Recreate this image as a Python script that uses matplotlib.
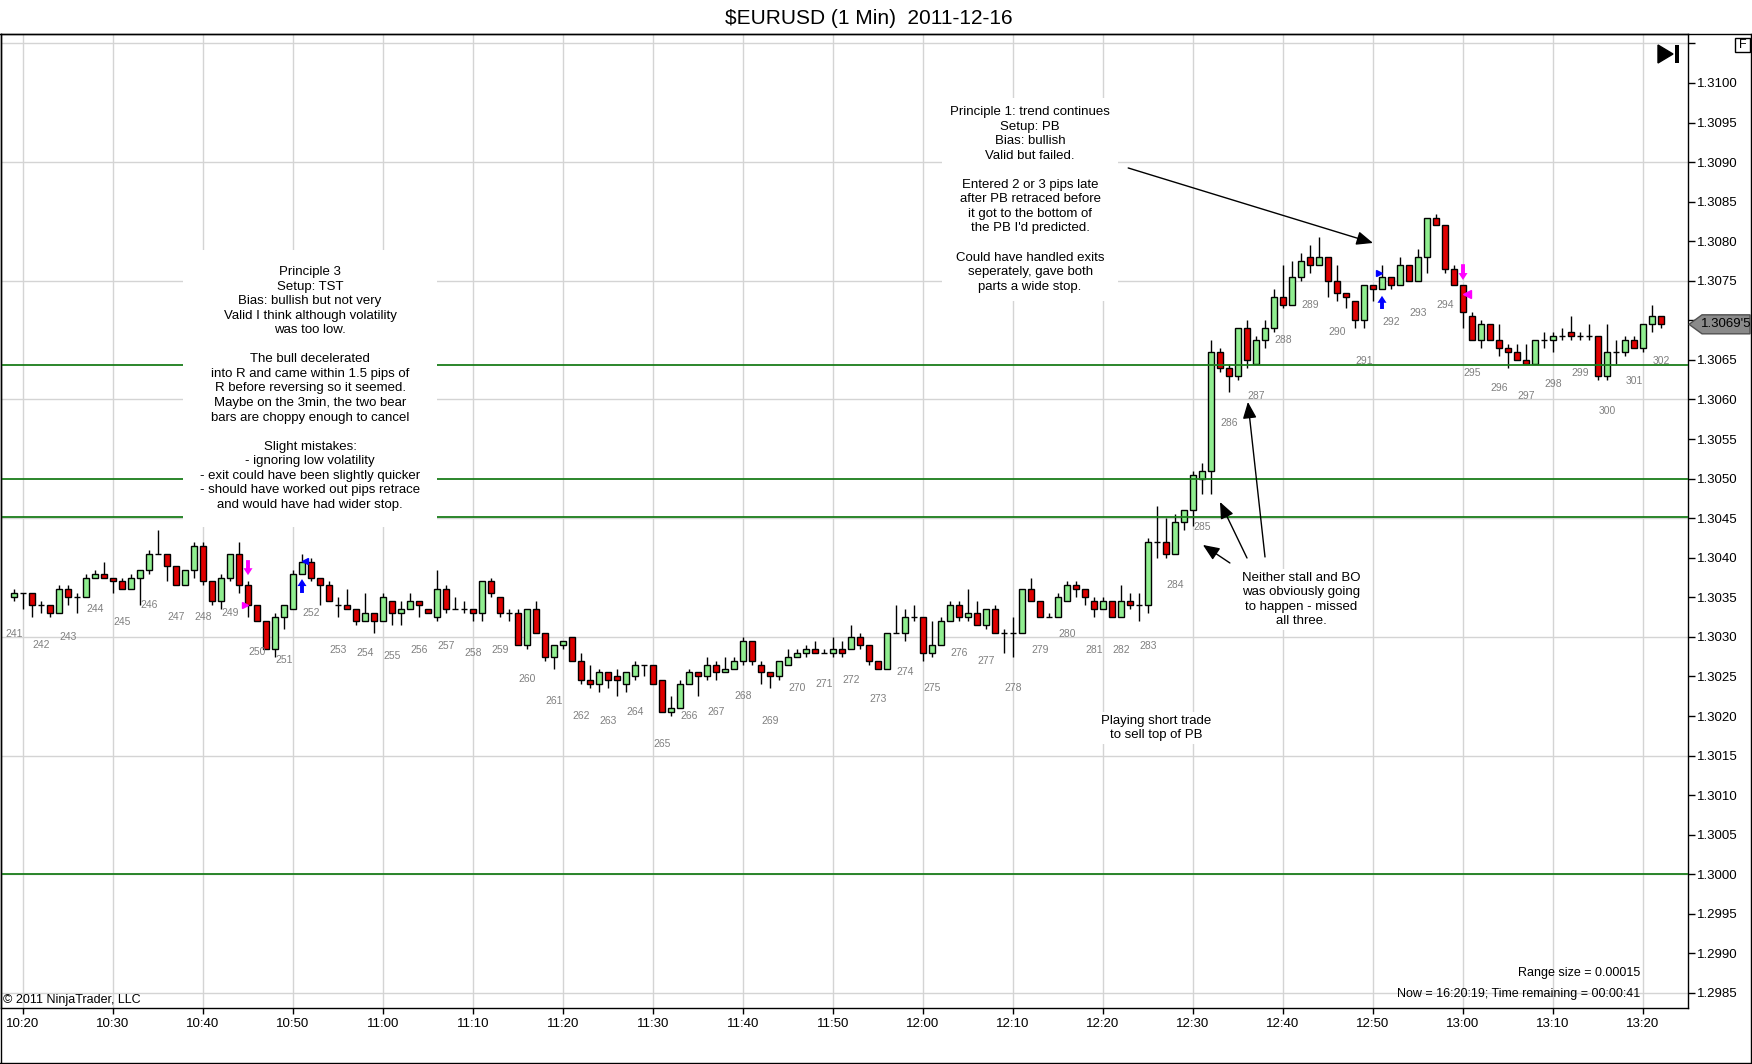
import numpy as np
import pandas as pd
import matplotlib
matplotlib.use("Agg")
import matplotlib.pyplot as plt
from matplotlib.patches import Polygon, Rectangle
from matplotlib.lines import Line2D
from matplotlib.transforms import IdentityTransform

# EURUSD 1 minute bars, 10:19 .. 13:22
opens = [
    1.30350, 1.30355, 1.30355, 1.30340, 1.30340, 1.30330, 1.30360, 1.30350, 1.30350, 1.30375,
    1.30380, 1.30375, 1.30370, 1.30360, 1.30375, 1.30385, 1.30405, 1.30405, 1.30390, 1.30365,
    1.30385, 1.30415, 1.30370, 1.30345, 1.30375, 1.30405, 1.30365, 1.30340, 1.30320, 1.30285,
    1.30325, 1.30335, 1.30380, 1.30395, 1.30375, 1.30365, 1.30340, 1.30340, 1.30335, 1.30320,
    1.30330, 1.30320, 1.30345, 1.30330, 1.30335, 1.30345, 1.30335, 1.30325, 1.30360, 1.30335,
    1.30335, 1.30335, 1.30330, 1.30370, 1.30350, 1.30330, 1.30330, 1.30290, 1.30335, 1.30305,
    1.30275, 1.30290, 1.30300, 1.30270, 1.30245, 1.30240, 1.30255, 1.30250, 1.30240, 1.30250,
    1.30265, 1.30265, 1.30245, 1.30205, 1.30210, 1.30240, 1.30255, 1.30250, 1.30265, 1.30255,
    1.30260, 1.30270, 1.30295, 1.30265, 1.30255, 1.30250, 1.30265, 1.30275, 1.30280, 1.30285,
    1.30280, 1.30280, 1.30285, 1.30285, 1.30300, 1.30290, 1.30270, 1.30260, 1.30305, 1.30305,
    1.30325, 1.30325, 1.30280, 1.30290, 1.30320, 1.30340, 1.30325, 1.30330, 1.30315, 1.30335,
    1.30305, 1.30305, 1.30305, 1.30360, 1.30345, 1.30325, 1.30325, 1.30345, 1.30365, 1.30360,
    1.30345, 1.30335, 1.30345, 1.30325, 1.30345, 1.30340, 1.30340, 1.30420, 1.30420, 1.30405,
    1.30445, 1.30460, 1.30500, 1.30510, 1.30660, 1.30640, 1.30630, 1.30690, 1.30645, 1.30675,
    1.30690, 1.30730, 1.30720, 1.30755, 1.30780, 1.30770, 1.30780, 1.30750, 1.30735, 1.30725,
    1.30700, 1.30745, 1.30740, 1.30755, 1.30745, 1.30770, 1.30750, 1.30780, 1.30830, 1.30820,
    1.30765, 1.30745, 1.30705, 1.30675, 1.30695, 1.30675, 1.30665, 1.30660, 1.30650, 1.30645,
    1.30675, 1.30675, 1.30680, 1.30685, 1.30680, 1.30680, 1.30680, 1.30630, 1.30660, 1.30660,
    1.30675, 1.30665, 1.30695, 1.30705,
]
highs = [
    1.30360, 1.30355, 1.30355, 1.30345, 1.30340, 1.30365, 1.30365, 1.30355, 1.30380, 1.30385,
    1.30395, 1.30375, 1.30375, 1.30380, 1.30385, 1.30410, 1.30435, 1.30405, 1.30390, 1.30385,
    1.30420, 1.30420, 1.30370, 1.30380, 1.30405, 1.30420, 1.30370, 1.30340, 1.30320, 1.30330,
    1.30340, 1.30385, 1.30405, 1.30400, 1.30375, 1.30370, 1.30350, 1.30360, 1.30335, 1.30355,
    1.30330, 1.30355, 1.30345, 1.30345, 1.30355, 1.30345, 1.30335, 1.30385, 1.30365, 1.30350,
    1.30345, 1.30335, 1.30370, 1.30375, 1.30350, 1.30335, 1.30335, 1.30335, 1.30345, 1.30305,
    1.30290, 1.30295, 1.30300, 1.30280, 1.30265, 1.30260, 1.30255, 1.30260, 1.30255, 1.30270,
    1.30265, 1.30265, 1.30245, 1.30225, 1.30245, 1.30260, 1.30255, 1.30275, 1.30270, 1.30275,
    1.30275, 1.30300, 1.30295, 1.30270, 1.30255, 1.30270, 1.30285, 1.30285, 1.30290, 1.30295,
    1.30285, 1.30300, 1.30295, 1.30315, 1.30305, 1.30290, 1.30270, 1.30305, 1.30340, 1.30335,
    1.30340, 1.30325, 1.30320, 1.30325, 1.30345, 1.30345, 1.30360, 1.30345, 1.30335, 1.30340,
    1.30310, 1.30325, 1.30360, 1.30375, 1.30345, 1.30330, 1.30355, 1.30370, 1.30370, 1.30360,
    1.30350, 1.30350, 1.30345, 1.30365, 1.30355, 1.30355, 1.30425, 1.30465, 1.30450, 1.30455,
    1.30460, 1.30510, 1.30520, 1.30675, 1.30665, 1.30645, 1.30690, 1.30700, 1.30680, 1.30700,
    1.30740, 1.30770, 1.30775, 1.30785, 1.30795, 1.30805, 1.30780, 1.30770, 1.30735, 1.30725,
    1.30745, 1.30745, 1.30770, 1.30755, 1.30780, 1.30770, 1.30790, 1.30830, 1.30835, 1.30820,
    1.30770, 1.30745, 1.30710, 1.30700, 1.30695, 1.30695, 1.30670, 1.30670, 1.30670, 1.30675,
    1.30685, 1.30685, 1.30690, 1.30705, 1.30685, 1.30695, 1.30680, 1.30695, 1.30675, 1.30680,
    1.30680, 1.30695, 1.30720, 1.30705,
]
lows = [
    1.30345, 1.30335, 1.30325, 1.30330, 1.30325, 1.30330, 1.30340, 1.30330, 1.30350, 1.30375,
    1.30375, 1.30355, 1.30360, 1.30360, 1.30340, 1.30380, 1.30405, 1.30370, 1.30365, 1.30365,
    1.30375, 1.30365, 1.30340, 1.30335, 1.30370, 1.30355, 1.30325, 1.30320, 1.30285, 1.30275,
    1.30310, 1.30335, 1.30380, 1.30370, 1.30340, 1.30345, 1.30325, 1.30335, 1.30315, 1.30320,
    1.30305, 1.30320, 1.30315, 1.30315, 1.30335, 1.30325, 1.30330, 1.30320, 1.30330, 1.30335,
    1.30330, 1.30320, 1.30320, 1.30350, 1.30325, 1.30320, 1.30290, 1.30285, 1.30305, 1.30270,
    1.30260, 1.30285, 1.30270, 1.30240, 1.30235, 1.30230, 1.30235, 1.30225, 1.30230, 1.30245,
    1.30250, 1.30240, 1.30205, 1.30200, 1.30210, 1.30240, 1.30225, 1.30245, 1.30245, 1.30255,
    1.30260, 1.30265, 1.30265, 1.30240, 1.30235, 1.30245, 1.30265, 1.30275, 1.30275, 1.30280,
    1.30280, 1.30275, 1.30275, 1.30285, 1.30285, 1.30265, 1.30260, 1.30260, 1.30305, 1.30295,
    1.30320, 1.30270, 1.30275, 1.30290, 1.30320, 1.30320, 1.30320, 1.30315, 1.30310, 1.30305,
    1.30280, 1.30275, 1.30305, 1.30345, 1.30325, 1.30325, 1.30325, 1.30345, 1.30350, 1.30340,
    1.30325, 1.30335, 1.30325, 1.30325, 1.30335, 1.30320, 1.30330, 1.30400, 1.30400, 1.30405,
    1.30435, 1.30440, 1.30480, 1.30480, 1.30635, 1.30610, 1.30625, 1.30640, 1.30645, 1.30665,
    1.30685, 1.30715, 1.30720, 1.30750, 1.30760, 1.30770, 1.30730, 1.30725, 1.30715, 1.30690,
    1.30690, 1.30725, 1.30740, 1.30740, 1.30745, 1.30750, 1.30750, 1.30760, 1.30820, 1.30760,
    1.30745, 1.30690, 1.30675, 1.30665, 1.30675, 1.30655, 1.30640, 1.30650, 1.30645, 1.30645,
    1.30665, 1.30660, 1.30675, 1.30675, 1.30675, 1.30675, 1.30625, 1.30625, 1.30645, 1.30655,
    1.30665, 1.30660, 1.30685, 1.30690,
]
closes = [
    1.30355, 1.30355, 1.30340, 1.30340, 1.30330, 1.30360, 1.30350, 1.30350, 1.30375, 1.30380,
    1.30375, 1.30370, 1.30360, 1.30375, 1.30385, 1.30405, 1.30405, 1.30390, 1.30365, 1.30385,
    1.30415, 1.30370, 1.30345, 1.30375, 1.30405, 1.30365, 1.30340, 1.30320, 1.30285, 1.30325,
    1.30340, 1.30380, 1.30395, 1.30375, 1.30365, 1.30345, 1.30340, 1.30335, 1.30320, 1.30330,
    1.30320, 1.30350, 1.30330, 1.30335, 1.30345, 1.30340, 1.30330, 1.30360, 1.30335, 1.30335,
    1.30335, 1.30330, 1.30370, 1.30355, 1.30330, 1.30330, 1.30290, 1.30335, 1.30305, 1.30275,
    1.30290, 1.30295, 1.30270, 1.30245, 1.30240, 1.30255, 1.30245, 1.30245, 1.30255, 1.30265,
    1.30265, 1.30240, 1.30205, 1.30210, 1.30240, 1.30255, 1.30250, 1.30265, 1.30255, 1.30260,
    1.30270, 1.30295, 1.30270, 1.30255, 1.30250, 1.30270, 1.30275, 1.30280, 1.30285, 1.30280,
    1.30280, 1.30285, 1.30280, 1.30300, 1.30290, 1.30270, 1.30260, 1.30305, 1.30305, 1.30325,
    1.30325, 1.30280, 1.30290, 1.30320, 1.30340, 1.30325, 1.30330, 1.30315, 1.30335, 1.30305,
    1.30305, 1.30305, 1.30360, 1.30345, 1.30325, 1.30325, 1.30350, 1.30365, 1.30360, 1.30350,
    1.30335, 1.30345, 1.30325, 1.30345, 1.30340, 1.30340, 1.30420, 1.30420, 1.30405, 1.30445,
    1.30460, 1.30505, 1.30510, 1.30660, 1.30640, 1.30630, 1.30690, 1.30650, 1.30675, 1.30690,
    1.30730, 1.30720, 1.30755, 1.30775, 1.30770, 1.30780, 1.30750, 1.30735, 1.30730, 1.30700,
    1.30745, 1.30740, 1.30755, 1.30745, 1.30770, 1.30750, 1.30780, 1.30830, 1.30820, 1.30765,
    1.30745, 1.30710, 1.30675, 1.30695, 1.30675, 1.30665, 1.30660, 1.30650, 1.30645, 1.30675,
    1.30675, 1.30680, 1.30680, 1.30680, 1.30680, 1.30680, 1.30630, 1.30660, 1.30660, 1.30675,
    1.30665, 1.30695, 1.30705, 1.30695,
]

# horizontal S/R lines drawn on the chart
levels = [1.30643, 1.30500, 1.30451, 1.30000]

# bar count labels, one every third bar
count_labels = list(range(241, 303))
count_label_prices = [
    1.30304, 1.30290, 1.30300, 1.30335, 1.30319, 1.30340, 1.30325, 1.30325, 1.30330, 1.30281,
    1.30271, 1.30330, 1.30284, 1.30280, 1.30276, 1.30284, 1.30289, 1.30280, 1.30284, 1.30247,
    1.30219, 1.30200, 1.30194, 1.30205, 1.30165, 1.30200, 1.30205, 1.30225, 1.30194, 1.30235,
    1.30240, 1.30245, 1.30222, 1.30255, 1.30235, 1.30280, 1.30270, 1.30235, 1.30284, 1.30304,
    1.30284, 1.30284, 1.30289, 1.30365, 1.30439, 1.30570, 1.30604, 1.30675, 1.30719, 1.30685,
    1.30649, 1.30698, 1.30709, 1.30719, 1.30634, 1.30614, 1.30604, 1.30619, 1.30634, 1.30585,
    1.30624, 1.30649,
]

note_p3 = ("Principle 3\nSetup: TST\nBias: bullish but not very\n"
           "Valid I think although volatility\nwas too low.\n\n"
           "The bull decelerated\ninto R and came within 1.5 pips of\n"
           "R before reversing so it seemed.\nMaybe on the 3min, the two bear\n"
           "bars are choppy enough to cancel\n\n"
           "Slight mistakes:\n- ignoring low volatility\n"
           "- exit could have been slightly quicker\n"
           "- should have worked out pips retrace\nand would have had wider stop.")
note_p1 = ("Principle 1: trend continues\nSetup: PB\nBias: bullish\nValid but failed.\n\n"
           "Entered 2 or 3 pips late\nafter PB retraced before\nit got to the bottom of\n"
           "the PB I'd predicted.\n\nCould have handled exits\nseperately, gave both\n"
           "parts a wide stop.")
note_bo = "Neither stall and BO\nwas obviously going\nto happen - missed\nall three."
note_short = "Playing short trade\nto sell top of PB"

W, H = 1752, 1064
plt.rcParams['font.family'] = ['Liberation Sans', 'DejaVu Sans']


def fx(px):
    return px / W


def fy(py):
    return 1 - py / H


fig = plt.figure(figsize=(W / 100, H / 100), dpi=100)
ax = fig.add_axes([fx(1), fy(1008), fx(1688) - fx(1), fy(34) - fy(1008)])

t0 = pd.Timestamp("2011-12-16 10:20")
times = pd.date_range("2011-12-16 10:19", periods=len(opens), freq="min")
x = ((times - t0) / pd.Timedelta(minutes=1)).to_numpy()
o = np.array(opens)
hi = np.array(highs)
lo = np.array(lows)
c = np.array(closes)

green = '#90ee90'
red = '#e00000'
bw = 0.67

# grid
tick_times = pd.date_range("2011-12-16 10:20", "2011-12-16 13:20", freq="10min")
tick_x = ((tick_times - t0) / pd.Timedelta(minutes=1)).to_numpy()
grid_levels = [1.2985, 1.3000, 1.3015, 1.3030, 1.3045, 1.3060, 1.3075, 1.3090, 1.3105]
for gx in tick_x:
    ax.axvline(gx, color='#d4d4d4', lw=1, zorder=0)
for gy in grid_levels:
    ax.axhline(gy, color='#d4d4d4', lw=1, zorder=0)

# candles
doji = np.isclose(o, c)
body = ~doji
ax.vlines(x, lo, hi, color='black', lw=1, zorder=2)
ax.bar(x[body], np.abs(c - o)[body], bottom=np.minimum(o, c)[body], width=bw,
       color=np.where(c >= o, green, red)[body], edgecolor='black', linewidth=1, zorder=3)
ax.hlines(c[doji], x[doji] - bw / 2, x[doji] + bw / 2, color='black', lw=1, zorder=3)

for lv in levels:
    ax.axhline(lv, color='#1a7d1a', lw=1.3, zorder=4)

for k, n in enumerate(count_labels):
    ax.text(x[3 * k], count_label_prices[k], str(n), ha='center', va='center',
            fontsize=7.5, color='#808080', zorder=3)

# notes
note_kw = dict(ha='center', va='center', multialignment='center',
               fontsize=9.5, linespacing=1.28, zorder=6)
ax.text(31.9, 1.306139, note_p3, bbox=dict(fc='white', ec='none', pad=12), **note_kw)
ax.text(111.9, 1.308528, note_p1, bbox=dict(fc='white', ec='none', pad=6), **note_kw)
ax.text(142.0, 1.303473, note_bo, bbox=dict(fc='white', ec='none', pad=2), **note_kw)
ax.text(125.9, 1.301849, note_short, bbox=dict(fc='white', ec='none', pad=2), **note_kw)

arrows = [((122.8, 1.308926), (150.0, 1.307978)),
          ((134.1, 1.303934), (131.1, 1.304162)),
          ((136.0, 1.303997), (133.0, 1.304705)),
          ((138.0, 1.304010), (136.1, 1.305969))]
for tail, head in arrows:
    ax.annotate('', xy=head, xytext=tail, zorder=7,
                arrowprops=dict(arrowstyle='-|>,head_length=1.0,head_width=0.42',
                                color='black', lw=1, mutation_scale=10,
                                shrinkA=0, shrinkB=0))

# trade markers
trade_arrows = [((25, 1.30397), (25, 1.30378), '#ff00ff'),
                ((31, 1.303555), (31, 1.30373), '#0000ff'),
                ((151, 1.307144), (151, 1.30731), '#0000ff'),
                ((160, 1.30771), (160, 1.30751), '#ff00ff')]
for tail, head, col in trade_arrows:
    ax.annotate('', xy=head, xytext=tail, zorder=7,
                arrowprops=dict(arrowstyle='simple,head_length=0.5,head_width=0.65,tail_width=0.28',
                                color=col, lw=0, mutation_scale=10, shrinkA=0, shrinkB=0))
ax.plot([24.65], [1.30340], marker='>', ms=5, color='#ff00ff', ls='none', zorder=7)
ax.plot([31.35], [1.30396], marker='<', ms=5, color='#0000ff', ls='none', zorder=7)
ax.plot([150.65], [1.30760], marker='>', ms=5, color='#0000ff', ls='none', zorder=7)
ax.plot([160.45], [1.30733], marker='<', ms=6, color='#ff00ff', ls='none', zorder=7)

# axes
ax.set_xlim(-2.444, 185.0)
ax.set_ylim(1.298310, 1.310619)
ax.set_xticks(tick_x)
ax.set_xticklabels([t.strftime("%H:%M") for t in tick_times])
yt = np.arange(12985, 13106, 5) / 10000
ax.set_yticks(yt)
# the top tick has no label; the one under the last-price box is hidden by it
ax.set_yticklabels(["" if (v > 1.31025 or abs(v - c[-1]) < 0.0001) else "%.4f" % v
                    for v in yt])
ax.yaxis.tick_right()
ax.tick_params(axis='y', direction='out', length=5, width=1, pad=1.5, labelsize=9.5)
ax.tick_params(axis='x', direction='out', length=4, width=1, pad=3, labelsize=9.5)
for s in ax.spines.values():
    s.set_color('black')
    s.set_linewidth(1)

# frame and chart furniture
fig.add_artist(Line2D([0, 1], [fy(34), fy(34)], transform=fig.transFigure, color='black', lw=1))
fig.add_artist(Line2D([fx(1750.5)] * 2, [fy(34), fy(1063)], transform=fig.transFigure, color='black', lw=1))
fig.add_artist(Line2D([0, 1], [fy(1062.5)] * 2, transform=fig.transFigure, color='black', lw=1))
fig.add_artist(Line2D([fx(0.5)] * 2, [fy(34), fy(1063)], transform=fig.transFigure, color='black', lw=1))

fig.add_artist(Rectangle((1735, H - 52), 15, 14, transform=IdentityTransform(),
                         fc='white', ec='black', lw=1))
fig.text(fx(1742.5), fy(45), "F", ha='center', va='center', fontsize=9)
fig.add_artist(Polygon([(1658, H - 45), (1658, H - 63), (1673, H - 54)], closed=True,
                       transform=IdentityTransform(), fc='black', ec='black'))
fig.add_artist(Rectangle((1675, H - 63), 4, 18, transform=IdentityTransform(),
                         fc='black', ec='none'))

fig.text(fx(869), fy(18), r"\$EURUSD (1 Min)  2011-12-16", ha='center', va='center', fontsize=15)
fig.text(fx(3), fy(1000), "© 2011 NinjaTrader, LLC", ha='left', va='center', fontsize=9)
fig.text(fx(1640), fy(973), "Range size = 0.00015", ha='right', va='center', fontsize=9)
fig.text(fx(1640), fy(994), "Now = 16:20:19; Time remaining = 00:00:41", ha='right',
         va='center', fontsize=9)

# last price marker
yc = ax.transData.transform((0, c[-1]))[1]
pts = [(1689, yc), (1702, yc + 9.5), (1750, yc + 9.5), (1750, yc - 9.5), (1702, yc - 9.5)]
fig.add_artist(Polygon(pts, closed=True, transform=IdentityTransform(),
                       fc='#8a8a8a', ec='#505050', lw=1))
s = "%.5f" % c[-1]
fig.text(fx(1726), yc / H, s[:-1] + "'" + s[-1], ha='center', va='center', fontsize=9.5)

fig.savefig("out.png", dpi=100)
